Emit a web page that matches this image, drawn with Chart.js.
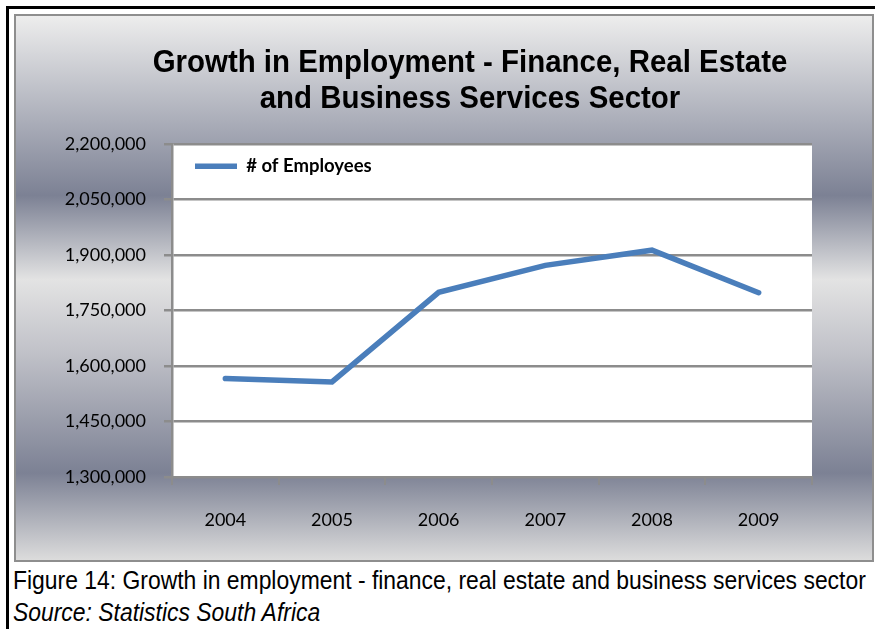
<!DOCTYPE html>
<html>
<head>
<meta charset="utf-8">
<script src="https://cdn.jsdelivr.net/npm/chart.js@4/dist/chart.umd.min.js"></script>
<style>
    html, body { margin: 0; padding: 0; background: #fff; overflow: hidden; }
    body { width: 875px; height: 629px; position: relative; }
    .frame {
        position: absolute; left: 6px; top: 6px; right: 0; bottom: -10px;
        border-top: 3px solid #000; border-left: 3px solid #000;
    }
    .chartBox {
        position: absolute; left: 14px; top: 14px; width: 856px; height: 544px;
        border: 2px solid #8e8e8e;
        background: linear-gradient(to bottom, #ededed 0%, #7c8194 33%, #e3e3e3 48.5%, #c0c1c8 62%, #7c8194 84%, #dcdcdc 100%);
    }
    .caption {
        position: absolute; left: 13px; top: 564px;
        font-family: "Liberation Sans", Arial, sans-serif;
        font-size: 25px; line-height: 32px; color: #000; white-space: nowrap;
        transform: scaleX(0.916); transform-origin: 0 0;
    }
</style>
</head>
<body>
<div class="frame"></div>
<div class="chartBox">
    <canvas id="employmentChart" width="856" height="544"></canvas>
</div>
<div class="caption">
    Figure 14: Growth in employment - finance, real estate and business services sector<br>
    <i>Source: Statistics South Africa</i>
</div>
<script>
const years = ['2004', '2005', '2006', '2007', '2008', '2009'];
const employees = [1566000, 1557000, 1799000, 1872000, 1913000, 1798000];
const titleLines = ['Growth in Employment - Finance, Real Estate', 'and Business Services Sector'];
const seriesName = '# of Employees';

// white plot area on top of the gradient box
const plotBackground = {
    id: 'plotBackground',
    beforeDraw(chart) {
        const { ctx, chartArea: a } = chart;
        ctx.save();
        ctx.fillStyle = '#ffffff';
        ctx.fillRect(a.left, a.top, a.right - a.left, a.bottom - a.top);
        ctx.restore();
    }
};

// condensed bold two-line heading, centred a little right of the box centre
const narrowTitle = {
    id: 'narrowTitle',
    afterDraw(chart, args, opts) {
        const ctx = chart.ctx;
        ctx.save();
        ctx.fillStyle = '#000';
        ctx.font = 'bold 32px "Liberation Sans", Arial, sans-serif';
        ctx.textAlign = 'center';
        ctx.textBaseline = 'alphabetic';
        ctx.translate(opts.x, 0);
        ctx.scale(0.92, 1);
        opts.lines.forEach((line, i) => ctx.fillText(line, 0, opts.baseline + i * opts.lineHeight));
        ctx.restore();
    }
};

// keep the legend inside the top-left corner of the plot
const legendInPlot = {
    id: 'legendInPlot',
    afterLayout(chart) {
        const lg = chart.legend;
        if (!lg) return;
        lg.left = chart.chartArea.left + 11;
        lg.top = chart.chartArea.top + 1;
        lg.bottom = chart.chartArea.bottom;
    }
};

const ctx = document.getElementById('employmentChart').getContext('2d');

new Chart(ctx, {
    type: 'line',
    data: {
        labels: years,
        datasets: [{
            label: seriesName,
            data: employees,
            borderColor: '#4a7ebb',
            backgroundColor: '#4a7ebb',
            borderWidth: 5.5,
            borderCapStyle: 'round',
            borderJoinStyle: 'miter',
            pointRadius: 0,
            pointHoverRadius: 0,
            pointStyle: 'line',
            tension: 0,
            fill: false
        }]
    },
    options: {
        responsive: false,
        animation: false,
        layout: {
            padding: { left: 40, right: 60, top: 128, bottom: 0 }
        },
        scales: {
            x: {
                offset: true,
                grid: {
                    offset: true,
                    drawOnChartArea: false,
                    drawTicks: true,
                    tickLength: 8,
                    color: '#8c8c8c',
                    lineWidth: 2
                },
                border: { display: true, color: '#8c8c8c', width: 2 },
                ticks: {
                    color: '#000',
                    padding: 24,
                    font: { family: 'Lato', size: 18 }
                },
                afterFit(scale) { scale.height = 83; }
            },
            y: {
                min: 1300000,
                max: 2200000,
                grid: {
                    color: '#8c8c8c',
                    lineWidth: 2.5,
                    tickLength: 8
                },
                border: { display: true, color: '#8c8c8c', width: 2.5 },
                ticks: {
                    stepSize: 150000,
                    color: '#000',
                    padding: 18,
                    font: { family: 'Lato', size: 18 },
                    callback: v => v.toLocaleString('en-US')
                },
                afterFit(scale) { scale.width = 116; }
            }
        },
        plugins: {
            title: { display: false },
            narrowTitle: { lines: titleLines, x: 454, baseline: 56, lineHeight: 36 },
            legend: {
                position: 'chartArea',
                align: 'start',
                labels: {
                    usePointStyle: true,
                    pointStyle: 'line',
                    pointStyleWidth: 42,
                    boxHeight: 10,
                    padding: 12,
                    color: '#000',
                    font: { family: 'Lato', size: 18.5, weight: 'bold' }
                }
            },
            tooltip: { enabled: false }
        }
    },
    plugins: [plotBackground, narrowTitle, legendInPlot]
});
</script>
</body>
</html>
